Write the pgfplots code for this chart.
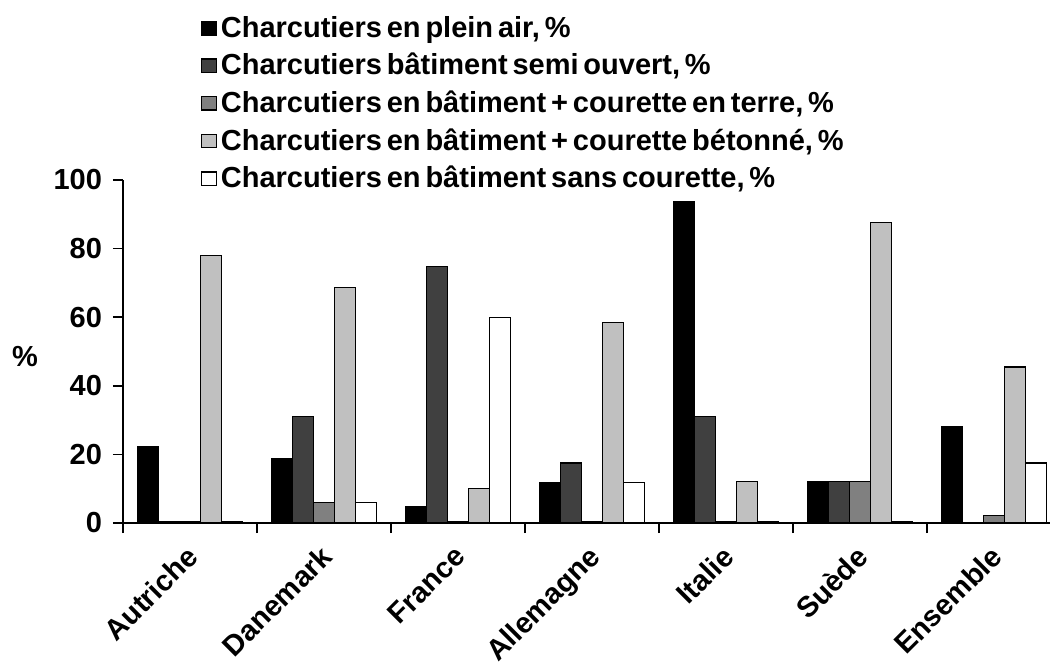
\documentclass[border=0pt]{standalone}
\usepackage{fontspec}
\setmainfont{Liberation Sans}[WordSpace=0.6]
\usepackage{pgfplots}
\pgfplotsset{compat=1.18}
\definecolor{sdark}{RGB}{64,64,64}
\definecolor{smid}{RGB}{128,128,128}
\definecolor{slight}{RGB}{192,192,192}

% one table per series, x = category index
\pgfplotstableread{
x y
0 22.3
1 18.8
2 4.9
3 11.8
4 93.7
5 12.2
6 28.1
}\pleinair
\pgfplotstableread{
x y
0 0.5
1 31.1
2 74.8
3 17.5
4 31.1
5 12.2
6 0
}\semiouvert
\pgfplotstableread{
x y
0 0.5
1 6.0
2 0.5
3 0.5
4 0.5
5 12.2
6 2.1
}\terre
\pgfplotstableread{
x y
0 77.9
1 68.6
2 10.0
3 58.5
4 12.1
5 87.6
6 45.5
}\betonne
\pgfplotstableread{
x y
0 0.5
1 6.0
2 59.9
3 11.8
4 0.5
5 0.5
6 17.5
}\sanscourette

\begin{document}
\begin{tikzpicture}
\useasboundingbox (-61.5pt,-71.5pt) rectangle (464pt,261.5pt);
\begin{axis}[
  scale only axis, width=463.5pt, height=171.5pt,
  xmin=-0.5, xmax=6.42, ymin=0, ymax=100,
  ybar=0pt, bar width=10.5pt,
  axis lines*=left, axis line style={-, line width=0.8pt},
  tick align=outside,
  font=\fontsize{14.5}{17}\selectfont\bfseries,
  /pgf/number format/assume math mode=true,
  ytick={0,20,...,100}, major tick length=5pt, minor tick length=5pt,
  every tick/.style={black, line width=0.8pt},
  yticklabel style={xshift=-2pt},
  xtick={0,...,6},
  xticklabels={Autriche,Danemark,France,Allemagne,Italie,Suède,Ensemble},
  major x tick style={draw=none},
  minor xtick={-0.5,0.5,...,5.5},
  xticklabel style={rotate=45, anchor=north east, inner sep=1pt, xshift=-4.5pt, yshift=-1pt},
  ylabel={\%},
  every axis y label/.style={at={(rel axis cs:-0.1057,0.484)}, anchor=center},
  legend cell align=left,
  legend style={at={(rel axis cs:0.084,1.49)}, anchor=north west,
    draw=none, fill=none, inner sep=0pt, row sep=2.5pt,
    font=\fontsize{14.5}{17}\selectfont\bfseries},
  legend image code/.code={\draw[#1, draw=black, line width=0.6pt] (0pt,-3.3pt) rectangle (7.2pt,3.3pt);},
  every axis plot/.append style={draw=black, line width=0.6pt},
]
\addplot[fill=black] table {\pleinair};
\addplot[fill=sdark] table {\semiouvert};
\addplot[fill=smid] table {\terre};
\addplot[fill=slight] table {\betonne};
\addplot[fill=white] table {\sanscourette};
\legend{{Charcutiers en plein air, \%},
  {Charcutiers bâtiment semi ouvert, \%},
  {Charcutiers en bâtiment + courette en terre, \%},
  {Charcutiers en bâtiment + courette bétonné, \%},
  {Charcutiers en bâtiment sans courette, \%}}
\end{axis}
\end{tikzpicture}
\end{document}
